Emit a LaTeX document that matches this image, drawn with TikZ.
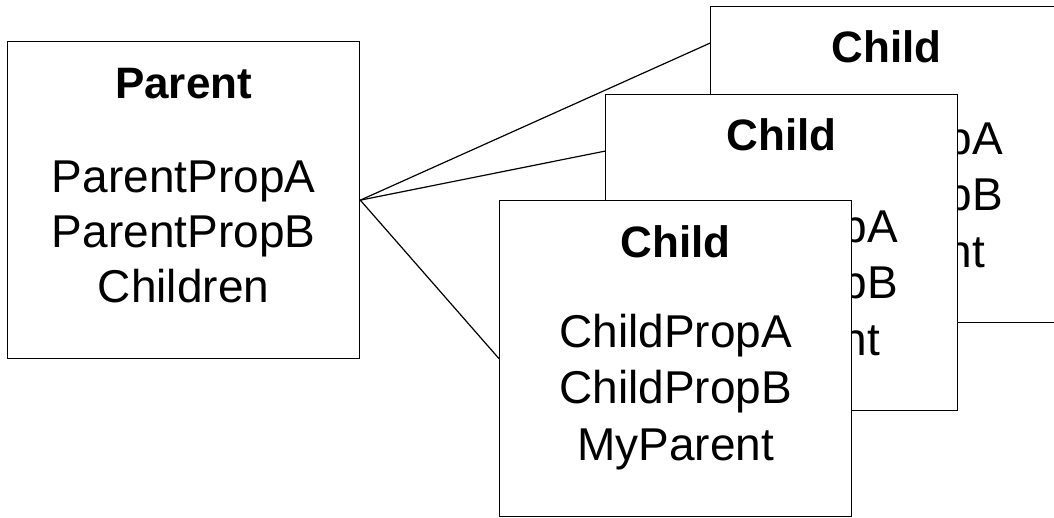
\documentclass[tikz,border=0pt]{standalone}
\usepackage{fontspec}
\setmainfont{Liberation Sans}
\usetikzlibrary{calc}
\begin{document}
\begin{tikzpicture}[x=1pt,y=-1pt,
  box/.style={draw=black,line width=1.3pt,fill=white,rectangle,inner sep=0pt,
              minimum width=352pt,minimum height=316pt,anchor=north west},
  title/.style={anchor=base,inner sep=0pt,font=\fontsize{44}{50}\selectfont\bfseries},
  prop/.style={anchor=base,inner sep=0pt,font=\fontsize{46}{50}\selectfont},
  link/.style={draw=black,line width=1.2pt}]
\useasboundingbox (0,0) rectangle (1054,517);
\clip (0,0) rectangle (1054,517);
\fill[white] (0,0) rectangle (1054,517);

% Parent
\node[box,minimum height=317pt] (parent) at (7,41) {};
\node[title] (ptitle) at ($(parent.north)+(0,57)$) {Parent};
\node[prop] (pa) at ($(parent.north)+(0,151)$) {ParentPropA};
\node[prop] (pb) at ($(parent.north)+(0,206)$) {ParentPropB};
\node[prop] (pc) at ($(parent.north)+(0,261)$) {Children};

% coordinate placeholders for link ends (boxes defined below)
\path (710,6) coordinate (aNW);
\path (605,94) coordinate (bNW);

% back child
\node[box] (childA) at (aNW) {};
\node[title] (atitle) at ($(childA.north)+(0,56)$) {Child};
\node[prop] (aa) at ($(childA.north)+(0,148)$) {ChildPropA};
\node[prop] (ab) at ($(childA.north)+(0,204)$) {ChildPropB};
\node[prop] (ac) at ($(childA.north)+(0,261)$) {MyParent};

% middle child
\node[box] (childB) at (bNW) {};
\node[title] (btitle) at ($(childB.north)+(0,56)$) {Child};
\node[prop] (ba) at ($(childB.north)+(0,148)$) {ChildPropA};
\node[prop] (bb) at ($(childB.north)+(0,204)$) {ChildPropB};
\node[prop] (bc) at ($(childB.north)+(0,261)$) {MyParent};

% front child
\node[box] (childC) at (499,200) {};
\node[title] (ctitle) at ($(childC.north)+(0,57)$) {Child};
\node[prop] (ca) at ($(childC.north)+(0,147)$) {ChildPropA};
\node[prop] (cb) at ($(childC.north)+(0,203)$) {ChildPropB};
\node[prop] (cc) at ($(childC.north)+(0,260)$) {MyParent};

% connectors
\draw[link] (parent.east) -- ($(childA.north west)!0.117!(childA.south west)$);
\draw[link] (parent.east) -- ($(childB.north west)!0.18!(childB.south west)$);
\draw[link] (parent.east) -- (childC.west);
\end{tikzpicture}
\end{document}
